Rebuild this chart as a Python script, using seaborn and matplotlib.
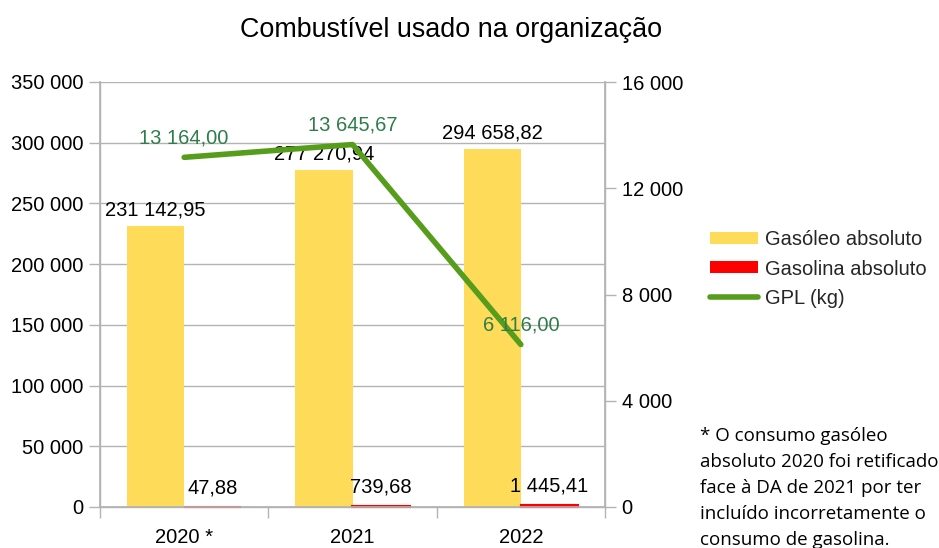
import numpy as np
import pandas as pd
import matplotlib
matplotlib.use("Agg")
import matplotlib.pyplot as plt
from matplotlib.ticker import FuncFormatter, FixedLocator
from matplotlib.patches import Patch
from matplotlib.lines import Line2D
import seaborn as sns

categories = ["2020 *", "2021", "2022"]
gasoleo = [231142.95, 277270.94, 294658.82]
gasolina = [47.88, 739.68, 1445.41]
gpl = [13164.00, 13645.67, 6116.00]
series_names = ["Gasóleo absoluto", "Gasolina absoluto", "GPL (kg)"]
title = "Combustível usado na organização"
footnote = ("* O consumo gasóleo\nabsoluto 2020 foi retificado\nface à DA de 2021 por ter\n"
            "incluído incorretamente o\nconsumo de gasolina.")

YELLOW = "#ffdb5a"
RED = "#ff0000"
GREEN = "#579d1c"
LABEL_GREEN = "#2e7d4a"
GRID = "#b3b3b3"
FS = 14.5

sns.set_theme(style="white")
plt.rcParams["font.family"] = ["Liberation Sans", "DejaVu Sans"]

def fmt_num(v, dec=2):
    s = f"{v:,.{dec}f}"
    s = s.replace(",", " ").replace(".", ",")
    return s

def fmt_tick(v, pos=None):
    return f"{int(round(v)):,}".replace(",", " ")

df = pd.DataFrame({
    "Ano": categories * 2,
    "Série": [series_names[0]] * 3 + [series_names[1]] * 3,
    "Valor": gasoleo + gasolina,
})

fig = plt.figure(figsize=(9.39, 5.48), dpi=100)
W, H = 939, 548
ax = fig.add_axes([100 / W, (H - 507) / H, 505 / W, 425 / H])

sns.barplot(data=df, x="Ano", y="Valor", hue="Série", ax=ax,
            palette=[YELLOW, RED], width=0.68, saturation=1, legend=False,
            errorbar=None, edgecolor="none", linewidth=0, zorder=2)

ax.set_xlim(-0.5, 2.5)
ax.set_ylim(0, 350000)
ax.yaxis.set_major_locator(FixedLocator(np.arange(0, 350001, 50000)))
ax.yaxis.set_major_formatter(FuncFormatter(fmt_tick))
ax.grid(axis="y", color=GRID, linewidth=1, zorder=0)
ax.set_axisbelow(True)
ax.set_xlabel("")
ax.set_ylabel("")
ax.spines["top"].set_visible(False)
for s in ["left", "bottom", "right"]:
    ax.spines[s].set_color(GRID)
    ax.spines[s].set_linewidth(1)
ax.tick_params(axis="y", which="major", length=8, color=GRID, width=1,
               labelsize=FS, labelcolor="black", pad=4, left=True)
ax.tick_params(axis="x", which="major", length=0, labelsize=FS,
               labelcolor="black", pad=15)
ax.set_xticks(np.arange(-0.5, 3, 1), minor=True)
ax.tick_params(axis="x", which="minor", length=8, color=GRID, width=1, bottom=True)

bars_gasoleo = ax.containers[0]
bars_gasolina = ax.containers[1]
for rect in bars_gasolina:
    rect.set_edgecolor(RED)
    rect.set_linewidth(1.5)
    rect.set_zorder(4)
    rect.set_clip_on(False)

for rect, v in zip(bars_gasoleo, gasoleo):
    ax.annotate(fmt_num(v), (rect.get_x() + rect.get_width() / 2, rect.get_height()),
                xytext=(0, 5), textcoords="offset points", ha="center", va="bottom",
                fontsize=FS, color="black", zorder=5)
for rect, v in zip(bars_gasolina, gasolina):
    ax.annotate(fmt_num(v), (rect.get_x() + rect.get_width() / 2, rect.get_height()),
                xytext=(0, 7), textcoords="offset points", ha="center", va="bottom",
                fontsize=FS, color="black", zorder=5)

ax2 = ax.twinx()
xpos = np.arange(len(categories))
sns.lineplot(x=xpos, y=gpl, ax=ax2, color=GREEN, linewidth=4, legend=False, zorder=3)
ax2.set_ylim(0, 16000)
ax2.set_xlim(-0.5, 2.5)
ax2.yaxis.set_major_locator(FixedLocator(np.arange(0, 16001, 4000)))
ax2.yaxis.set_major_formatter(FuncFormatter(fmt_tick))
ax2.tick_params(axis="y", length=8, color=GRID, width=1, labelsize=FS,
                labelcolor="black", pad=4, right=True)
ax2.grid(False)
ax2.set_ylabel("")
ax2.spines["top"].set_visible(False)
for s in ["left", "bottom", "right"]:
    ax2.spines[s].set_color(GRID)
for x, v in zip(xpos, gpl):
    ax2.annotate(fmt_num(v), (x, v), xytext=(0, 7), textcoords="offset points",
                 ha="center", va="bottom", fontsize=FS, color=LABEL_GREEN, zorder=6)

fig.text(451 / W, 1 - 30 / H, title, ha="center", va="center", fontsize=19.4, color="black")

handles = [
    Patch(facecolor=YELLOW, edgecolor="none"),
    Patch(facecolor=RED, edgecolor="none"),
    Line2D([0], [0], color=GREEN, linewidth=4),
]
fig.legend(handles, series_names, loc="center left", bbox_to_anchor=(710 / W, 1 - 269 / H),
           frameon=False, fontsize=FS, handlelength=2.38, handleheight=0.55,
           handletextpad=0.34, labelspacing=0.52, borderpad=0, borderaxespad=0)

fig.text(700 / W, 1 - 427 / H, footnote, ha="left", va="top", fontsize=13.5,
         family=["Open Sans", "DejaVu Sans"], linespacing=1.57, color="black")

fig.savefig("out.png", dpi=100, facecolor="white")
